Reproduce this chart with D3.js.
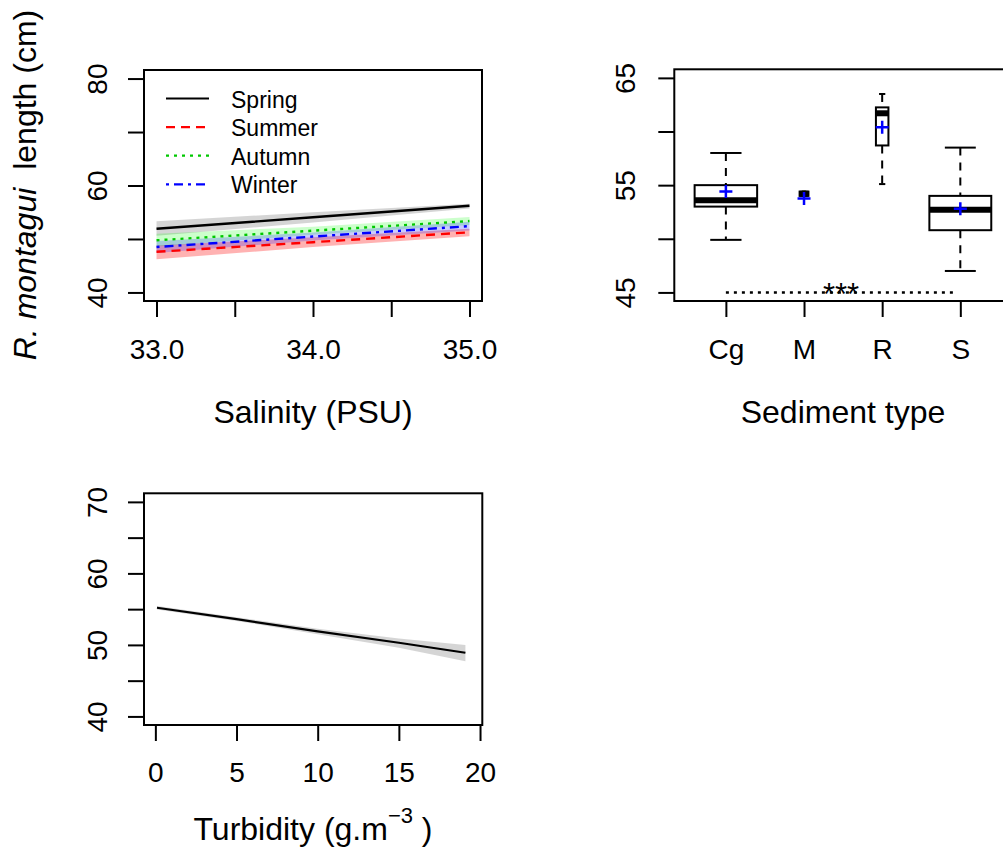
<!DOCTYPE html>
<html>
<head>
<meta charset="utf-8">
<script src="https://cdn.jsdelivr.net/npm/d3@7"></script>
<style>
body { margin: 0; background: #fff; }
svg text { font-family: "Liberation Sans", Arial, sans-serif; fill: #000; }
</style>
</head>
<body>
<div id="chart"></div>
<script>
// --- salinity panel (fitted length by season)
var salinity = [33, 34, 35];
var seasons = ["Spring", "Summer", "Autumn", "Winter"];
var springFit = [51.9, 54.05, 56.2];
var springLow = [50.6, 53.1, 55.7];
var springHigh = [53.3, 55.0, 56.6];
var summerFit = [47.6, 49.4, 51.25];
var summerLow = [46.2, 48.5, 50.5];
var summerHigh = [48.8, 50.3, 51.9];
var autumnFit = [49.75, 51.55, 53.35];
var autumnLow = [48.6, 50.8, 52.6];
var autumnHigh = [51.0, 52.3, 54.1];
var winterFit = [48.5, 50.45, 52.4];
var winterLow = [47.4, 49.7, 51.6];
var winterHigh = [49.6, 51.2, 53.2];
var salinityTicks = [33, 33.5, 34, 34.5, 35];
var salinityLabels = ["33.0", "", "34.0", "", "35.0"];
var lengthTicks1 = [40, 50, 60, 70, 80];
var lengthLabels1 = ["40", "", "60", "", "80"];

// --- sediment panel (boxplots)
var sediment = ["Cg", "M", "R", "S"];
var sedCount = [100, 2, 4, 98];
var sedLowWhisker = [49.9, 54.0, 55.1, 47.0];
var sedQ1 = [53.0, 54.0, 58.7, 50.8];
var sedMedian = [53.6, 54.2, 61.7, 52.7];
var sedQ3 = [55.0, 54.4, 62.25, 54.0];
var sedHighWhisker = [58.0, 54.4, 63.5, 58.5];
var sedMean = [54.4, 53.75, 60.4, 52.8];
var sedTicks = [45, 50, 55, 60, 65];
var sedLabels = ["45", "", "55", "", "65"];

// --- turbidity panel
var turbidity = [0.1, 5, 10, 15, 19.1];
var turbFit = [55.2, 53.6, 51.9, 50.3, 48.9];
var turbLow = [54.95, 53.35, 51.5, 49.6, 47.7];
var turbHigh = [55.45, 53.85, 52.25, 50.9, 50.0];
var turbTicks = [0, 5, 10, 15, 20];
var lengthTicks3 = [40, 45, 50, 55, 60, 65, 70];
var lengthLabels3 = ["40", "", "50", "", "60", "", "70"];

var svg = d3.select("#chart").append("svg")
	.attr("width", 1003)
	.attr("height", 852);
svg.append("rect").attr("width", 1003).attr("height", 852).attr("fill", "#fff");

function axisBottom(g, x, y0, ticks, labels, labelY) {
	var a = g.append("g").attr("transform", "translate(0," + y0 + ")")
		.call(d3.axisBottom(x).tickValues(ticks).tickSize(16)
			.tickFormat(function(d, i) { return labels[i]; }));
	a.select(".domain").remove();
	a.selectAll("line").attr("stroke", "#000").attr("stroke-width", 2);
	a.selectAll("text").attr("y", labelY).attr("dy", 0).attr("font-size", 28);
}

function axisLeft(g, y, x0, ticks, labels, off) {
	var a = g.append("g").attr("transform", "translate(" + x0 + ",0)")
		.call(d3.axisLeft(y).tickValues(ticks).tickSize(16)
			.tickFormat(function(d, i) { return labels[i]; }));
	a.select(".domain").remove();
	a.selectAll("line").attr("stroke", "#000").attr("stroke-width", 2);
	a.selectAll("text")
		.attr("transform", "rotate(-90)")
		.attr("x", 0).attr("y", -off).attr("dy", 0)
		.attr("text-anchor", "middle")
		.attr("font-size", 28);
}

function frame(g, x0, y0, x1, y1) {
	g.append("rect").attr("x", x0).attr("y", y0)
		.attr("width", x1 - x0).attr("height", y1 - y0)
		.attr("fill", "none").attr("stroke", "#000").attr("stroke-width", 2);
}

// ---------------- panel 1: salinity
(function() {
	var g = svg.append("g");
	var x = d3.scaleLinear().domain([32.92, 35.08]).range([144, 482]);
	var y = d3.scaleLinear().domain([38.4, 81.6]).range([301, 70]);

	var series = [
		{name: "Spring", fit: springFit, low: springLow, high: springHigh, color: "#000", band: "rgba(150,150,150,0.4)", dash: null},
		{name: "Summer", fit: summerFit, low: summerLow, high: summerHigh, color: "#ff0000", band: "rgba(255,0,0,0.3)", dash: "9,6"},
		{name: "Autumn", fit: autumnFit, low: autumnLow, high: autumnHigh, color: "#00c800", band: "rgba(0,255,0,0.2)", dash: "3,5"},
		{name: "Winter", fit: winterFit, low: winterLow, high: winterHigh, color: "#0000ff", band: "rgba(0,0,255,0.2)", dash: "3,5,9,5"}
	];

	var area = d3.area()
		.x(function(d) { return x(d.s); })
		.y0(function(d) { return y(d.lo); })
		.y1(function(d) { return y(d.hi); });
	var line = d3.line()
		.x(function(d) { return x(d.s); })
		.y(function(d) { return y(d.v); });

	series.forEach(function(s) {
		var pts = salinity.map(function(v, i) { return {s: v, v: s.fit[i], lo: s.low[i], hi: s.high[i]}; });
		g.append("path").attr("d", area(pts)).attr("fill", s.band);
	});
	series.forEach(function(s) {
		var pts = salinity.map(function(v, i) { return {s: v, v: s.fit[i]}; });
		g.append("path").attr("d", line(pts))
			.attr("fill", "none").attr("stroke", s.color).attr("stroke-width", 2.4)
			.attr("stroke-dasharray", s.dash);
	});

	// legend
	var leg = g.append("g");
	series.forEach(function(s, i) {
		var ly = 98.5 + i * 28.6;
		leg.append("line").attr("x1", 166).attr("x2", 209).attr("y1", ly).attr("y2", ly)
			.attr("stroke", s.color).attr("stroke-width", 2.2).attr("stroke-dasharray", s.dash);
		leg.append("text").attr("x", 231).attr("y", ly + 9).attr("font-size", 23).text(s.name);
	});

	frame(g, 144, 70, 482, 301);
	axisBottom(g, x, 301, salinityTicks, salinityLabels, 58);
	axisLeft(g, y, 144, lengthTicks1, lengthLabels1, 37);

	g.append("text").attr("x", 313).attr("y", 423).attr("text-anchor", "middle")
		.attr("font-size", 32).text("Salinity (PSU)");

	var yt = g.append("text").attr("transform", "translate(36,185) rotate(-90)")
		.attr("text-anchor", "middle").attr("font-size", 32);
	yt.append("tspan").attr("font-style", "italic").text("R. montagui");
	yt.append("tspan").attr("dx", 9).text(" length (cm)");
})();

// ---------------- panel 2: sediment boxplots
(function() {
	var g = svg.append("g");
	var x = d3.scaleLinear().domain([0.34, 4.66]).range([674.3, 1011.9]);
	var y = d3.scaleLinear().domain([44.2, 65.8]).range([301, 69.3]);
	var unit = x(2) - x(1);
	var maxRoot = d3.max(sedCount, function(n) { return Math.sqrt(n); });

	sediment.forEach(function(s, i) {
		var cx = x(i + 1);
		var w = 0.8 * unit * Math.sqrt(sedCount[i]) / maxRoot;
		var b = g.append("g");
		// whiskers
		b.append("line").attr("x1", cx).attr("x2", cx).attr("y1", y(sedHighWhisker[i])).attr("y2", y(sedQ3[i]))
			.attr("stroke", "#000").attr("stroke-width", 2).attr("stroke-dasharray", "8,7");
		b.append("line").attr("x1", cx).attr("x2", cx).attr("y1", y(sedQ1[i])).attr("y2", y(sedLowWhisker[i]))
			.attr("stroke", "#000").attr("stroke-width", 2).attr("stroke-dasharray", "8,7");
		[sedHighWhisker[i], sedLowWhisker[i]].forEach(function(v) {
			b.append("line").attr("x1", cx - w / 4).attr("x2", cx + w / 4).attr("y1", y(v)).attr("y2", y(v))
				.attr("stroke", "#000").attr("stroke-width", 2);
		});
		// box
		b.append("rect").attr("x", cx - w / 2).attr("y", y(sedQ3[i]))
			.attr("width", w).attr("height", y(sedQ1[i]) - y(sedQ3[i]))
			.attr("fill", "#fff").attr("stroke", "#000").attr("stroke-width", 2);
		// median
		b.append("line").attr("x1", cx - w / 2).attr("x2", cx + w / 2)
			.attr("y1", y(sedMedian[i])).attr("y2", y(sedMedian[i]))
			.attr("stroke", "#000").attr("stroke-width", 6);
		// mean
		var my = y(sedMean[i]);
		b.append("path").attr("d", "M" + (cx - 6.5) + "," + my + "H" + (cx + 6.5) + "M" + cx + "," + (my - 6.5) + "V" + (my + 6.5))
			.attr("stroke", "#0000ff").attr("stroke-width", 2.5).attr("fill", "none");
	});

	// significance line
	g.append("line").attr("x1", x(1)).attr("x2", x(4) - 5).attr("y1", y(45)).attr("y2", y(45))
		.attr("stroke", "#000").attr("stroke-width", 2.5).attr("stroke-dasharray", "3,5");
	g.append("text").attr("x", (x(1) + x(4)) / 2 - 2).attr("y", y(45) + 13)
		.attr("text-anchor", "middle").attr("font-size", 31).text("***");

	frame(g, 674.3, 69.3, 1011.9, 301);
	axisBottom(g, x, 301, [1, 2, 3, 4], sediment, 58);
	axisLeft(g, y, 674.3, sedTicks, sedLabels, 39);

	g.append("text").attr("x", 843).attr("y", 423).attr("text-anchor", "middle")
		.attr("font-size", 32).text("Sediment type");
})();

// ---------------- panel 3: turbidity
(function() {
	var g = svg.append("g");
	var x = d3.scaleLinear().domain([-0.7, 20.14]).range([144, 482.3]);
	var y = d3.scaleLinear().domain([38.8, 71.2]).range([725, 493.3]);
	var pts = turbidity.map(function(t, i) { return {t: t, v: turbFit[i], lo: turbLow[i], hi: turbHigh[i]}; });

	g.append("path").attr("d", d3.area()
			.x(function(d) { return x(d.t); })
			.y0(function(d) { return y(d.lo); })
			.y1(function(d) { return y(d.hi); })(pts))
		.attr("fill", "rgba(150,150,150,0.4)");
	g.append("path").attr("d", d3.line()
			.x(function(d) { return x(d.t); })
			.y(function(d) { return y(d.v); })(pts))
		.attr("fill", "none").attr("stroke", "#000").attr("stroke-width", 2.2);

	frame(g, 144, 493.3, 482.3, 725);
	axisBottom(g, x, 725, turbTicks, turbTicks.map(String), 57);
	axisLeft(g, y, 144, lengthTicks3, lengthLabels3, 37);

	var t = g.append("text").attr("x", 313).attr("y", 840).attr("text-anchor", "middle").attr("font-size", 32);
	t.append("tspan").text("Turbidity (g.m");
	t.append("tspan").attr("dy", -17).attr("font-size", 22).text("\u22123");
	t.append("tspan").attr("dy", 17).text(" )");
})();
</script>
</body>
</html>
